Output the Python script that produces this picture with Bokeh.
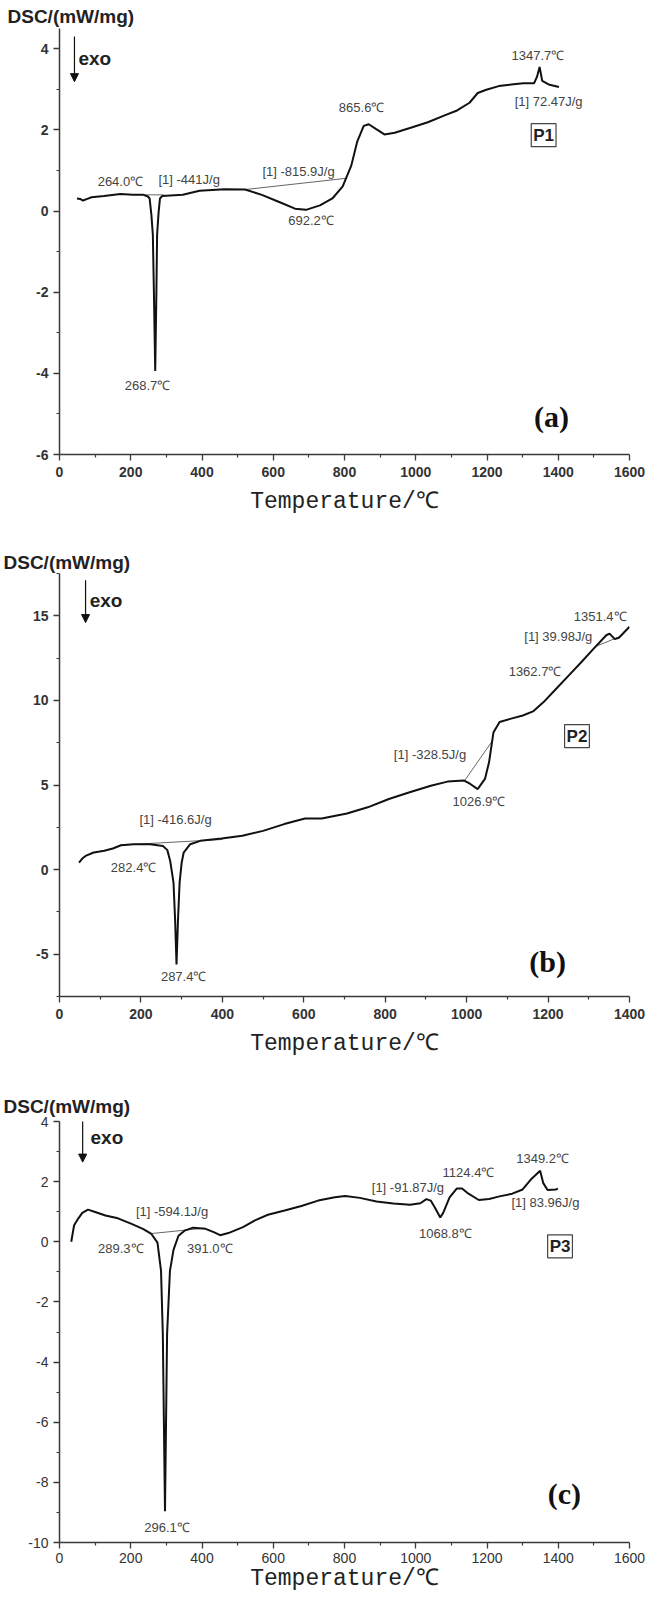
from bokeh.plotting import figure
from bokeh.layouts import column
from bokeh.models import Range1d, FixedTicker, Label, Arrow, NormalHead, ColumnDataSource, Title
from bokeh.core.properties import value
from bokeh.embed import file_html
from bokeh.resources import INLINE

# ---------------- data: panel (a) ----------------
a_temp = [49, 58, 66, 78, 90, 125, 171, 206, 236, 248, 253, 258, 262, 265, 268.7, 272, 274, 278, 282, 288,
          346, 393, 463, 521, 568, 615, 661, 692, 731, 766, 795, 819, 836, 854, 868, 889, 912, 941, 988,
          1034, 1081, 1116, 1151, 1174, 1198, 1233, 1268, 1302, 1332, 1340, 1347.7, 1355, 1373, 1402]
a_dsc = [0.31, 0.30, 0.26, 0.30, 0.34, 0.37, 0.42, 0.40, 0.40, 0.36, 0.31, -0.10, -0.58, -2.0, -3.94, -2.0, -0.58, -0.05, 0.31, 0.37,
         0.40, 0.50, 0.54, 0.53, 0.40, 0.23, 0.06, 0.03, 0.14, 0.31, 0.61, 1.12, 1.72, 2.10, 2.14, 2.02, 1.89, 1.93, 2.06,
         2.19, 2.36, 2.48, 2.67, 2.91, 2.99, 3.08, 3.12, 3.15, 3.15, 3.30, 3.55, 3.21, 3.12, 3.06]
a_base1_t = [235, 292]
a_base1_v = [0.40, 0.40]
a_base2_t = [521, 807]
a_base2_v = [0.53, 0.81]
a_lab_text = ["264.0\u2103", "[1] -441J/g", "[1] -815.9J/g", "268.7\u2103", "692.2\u2103", "865.6\u2103",
              "1347.7\u2103", "[1] 72.47J/g"]
a_lab_t = [171, 364, 671, 247, 706, 848, 1343, 1373]
a_lab_v = [0.74, 0.78, 0.98, -4.30, -0.24, 2.55, 3.84, 2.71]

# ---------------- data: panel (b) ----------------
b_temp = [48, 56, 64, 84, 110, 131, 151, 182, 223, 254, 265, 272, 280, 284, 287.4, 291, 295, 300, 305, 321,
          346, 398, 449, 500, 552, 603, 644, 706, 757, 809, 860, 912, 953, 994, 1009, 1027, 1045, 1055, 1066,
          1081, 1107, 1138, 1163, 1189, 1220, 1251, 1282, 1312, 1343, 1351, 1364, 1374, 1400]
b_dsc = [0.41, 0.65, 0.81, 1.01, 1.11, 1.25, 1.44, 1.50, 1.50, 1.40, 1.15, 0.50, -0.77, -3.0, -5.6, -3.0, -0.77, 0.40, 1.01, 1.50,
         1.70, 1.84, 2.00, 2.29, 2.69, 3.02, 3.02, 3.32, 3.68, 4.17, 4.57, 4.96, 5.20, 5.26, 5.06, 4.76, 5.36, 6.34, 8.12,
         8.72, 8.91, 9.11, 9.35, 9.90, 10.69, 11.48, 12.27, 13.06, 13.85, 13.95, 13.62, 13.70, 14.35]
b_base1_t = [150, 400]
b_base1_v = [1.45, 1.78]
b_base2_t = [995, 1063]
b_base2_v = [5.26, 7.60]
b_base3_t = [1318, 1374]
b_base3_v = [13.20, 13.75]
b_lab_text = ["[1] -416.6J/g", "282.4\u2103", "287.4\u2103", "[1] -328.5J/g", "1026.9\u2103",
              "1362.7\u2103", "[1] 39.98J/g", "1351.4\u2103"]
b_lab_t = [285, 182, 305, 910, 1030, 1168, 1225, 1328]
b_lab_v = [2.98, 0.12, -6.30, 6.78, 4.01, 11.68, 13.75, 14.94]

# ---------------- data: panel (c) ----------------
c_temp = [33, 41, 53, 64, 80, 100, 129, 164, 199, 234, 258, 275, 285, 290, 296.1, 302, 310, 320, 334, 351,
          375, 410, 433, 451, 474, 515, 550, 585, 632, 679, 726, 773, 802, 843, 890, 937, 984, 1013, 1030,
          1042, 1054, 1068.8, 1077, 1095, 1115, 1130, 1148, 1177, 1206, 1235, 1271, 1300, 1323, 1349.2, 1358,
          1370, 1393, 1399]
c_dsc = [0.0, 0.55, 0.78, 0.96, 1.07, 0.99, 0.875, 0.78, 0.61, 0.43, 0.26, -0.03, -0.97, -3.07, -8.96, -3.07, -0.97, -0.27, 0.20, 0.37,
         0.47, 0.43, 0.32, 0.22, 0.29, 0.49, 0.72, 0.90, 1.04, 1.19, 1.37, 1.48, 1.52, 1.46, 1.34, 1.27, 1.23, 1.28, 1.42,
         1.37, 1.13, 0.81, 0.96, 1.48, 1.77, 1.77, 1.60, 1.39, 1.42, 1.51, 1.60, 1.74, 2.07, 2.36, 1.95,
         1.72, 1.74, 1.77]
c_base1_t = [255, 405]
c_base1_v = [0.27, 0.45]
c_lab_text = ["[1] -594.1J/g", "289.3\u2103", "391.0\u2103", "296.1\u2103", "[1] -91.87J/g",
              "1124.4\u2103", "1068.8\u2103", "1349.2\u2103", "[1] 83.96J/g"]
c_lab_t = [316, 172, 422, 302, 978, 1148, 1083, 1356, 1364]
c_lab_v = [1.02, -0.23, -0.23, -9.49, 1.80, 2.30, 0.26, 2.77, 1.31]

x_ticks_1600 = [0, 200, 400, 600, 800, 1000, 1200, 1400, 1600]
x_ticks_1400 = [0, 200, 400, 600, 800, 1000, 1200, 1400]
a_yticks = [-6, -4, -2, 0, 2, 4]
b_yticks = [-5, 0, 5, 10, 15]
c_yticks = [-10, -8, -6, -4, -2, 0, 2, 4]

SANS = "Liberation Sans"
ANN_COLOR = "#444444"


def make_panel(width, height, bl, br, bt, bb, xr, yr, xticks, xminor, yticks, yminor, bold_ticks,
               title_offset, title_standoff, label_standoff, xlab_standoff):
    p = figure(width=width, height=height, output_backend="svg", toolbar_location=None,
               x_range=Range1d(*xr), y_range=Range1d(*yr),
               min_border_left=bl, min_border_right=br, min_border_top=bt, min_border_bottom=bb)
    p.outline_line_color = None
    p.xgrid.visible = False
    p.ygrid.visible = False
    p.background_fill_color = "white"
    p.border_fill_color = "white"
    p.add_layout(Title(text="DSC/(mW/mg)", align="left", offset=title_offset, standoff=title_standoff,
                       text_font=SANS, text_font_size="19px", text_font_style="bold",
                       text_color="#222222"), "above")
    p.xaxis.ticker = FixedTicker(ticks=xticks, minor_ticks=xminor)
    p.yaxis.ticker = FixedTicker(ticks=yticks, minor_ticks=yminor)
    p.xaxis.major_label_overrides = {t: str(t) for t in xticks}
    p.yaxis.major_label_overrides = {t: str(t) for t in yticks}
    for ax in (p.xaxis, p.yaxis):
        ax.axis_line_color = "#3a3a3a"
        ax.axis_line_width = 1.5
        ax.major_tick_line_color = "#3a3a3a"
        ax.minor_tick_line_color = "#3a3a3a"
        ax.major_tick_line_width = 1.3
        ax.minor_tick_line_width = 1.2
        ax.major_tick_in = 0
        ax.major_tick_out = 6
        ax.minor_tick_in = 0
        ax.minor_tick_out = 3
        ax.major_label_text_font = SANS
        ax.major_label_text_font_size = "14px"
        ax.major_label_text_color = "#333333"
        ax.major_label_text_font_style = "bold" if bold_ticks else "normal"
    p.xaxis.major_label_standoff = xlab_standoff
    p.yaxis.major_label_standoff = 5
    p.xaxis.axis_label = "Temperature/\u2103"
    p.xaxis.axis_label_text_font = "Liberation Mono"
    p.xaxis.axis_label_text_font_size = "23px"
    p.xaxis.axis_label_text_font_style = "normal"
    p.xaxis.axis_label_text_color = "#222222"
    p.xaxis.axis_label_standoff = label_standoff
    return p


def decorate(p, temp, dsc, bases, lab_t, lab_v, lab_text, arrow, exo_xy, tag, tag_xy, letter, letter_xy):
    for bt, bv in bases:
        p.line(bt, bv, line_color="#555555", line_width=0.9)
    p.line(temp, dsc, line_color="#111111", line_width=2.0)
    src = ColumnDataSource(dict(x=lab_t, y=lab_v, text=lab_text))
    p.text(x="x", y="y", text="text", source=src, text_font=value(SANS), text_font_size="13px",
           text_color=ANN_COLOR, text_align="center", text_baseline="middle")
    p.add_layout(Arrow(end=NormalHead(size=8, fill_color="#111111", line_color="#111111"),
                       x_start=arrow[0], y_start=arrow[1], x_end=arrow[0], y_end=arrow[2],
                       line_color="#111111", line_width=1.2))
    p.add_layout(Label(x=exo_xy[0], y=exo_xy[1], text="exo", text_font=SANS,
                       text_font_size="19px", text_font_style="bold", text_color="#222222",
                       text_align="left", text_baseline="middle"))
    p.add_layout(Label(x=tag_xy[0], y=tag_xy[1], text=tag, text_font=SANS,
                       text_font_size="17px", text_font_style="bold", text_color="#222222",
                       text_align="center", text_baseline="middle",
                       border_line_color="#444444", border_line_width=1.2,
                       background_fill_color="white", padding=2))
    p.add_layout(Label(x=letter_xy[0], y=letter_xy[1], text=letter, text_font="Liberation Serif",
                       text_font_size="30px", text_font_style="bold", text_color="#111111",
                       text_align="center", text_baseline="middle"))


# panel (a)
pa = make_panel(645, 540, 55, 16, 28, 86, (0, 1600), (-6, 4.5), x_ticks_1600,
                [100, 300, 500, 700, 900, 1100, 1300, 1500], a_yticks, [-5, -3, -1, 1, 3], True,
                -52, 4, 9, 6)
decorate(pa, a_temp, a_dsc, [(a_base1_t, a_base1_v), (a_base2_t, a_base2_v)],
         a_lab_t, a_lab_v, a_lab_text, (42, 4.30, 3.19), (53, 3.75),
         "P1", (1359, 1.87), "(a)", (1381, -5.06))

# panel (b)
pb = make_panel(645, 540, 59, 16, 33, 84, (0, 1400), (-7.5, 17.5), x_ticks_1400,
                [100, 300, 500, 700, 900, 1100, 1300], b_yticks, [-7.5, -2.5, 2.5, 7.5, 12.5, 17.5], True,
                -56, 1, 9, 6)
decorate(pb, b_temp, b_dsc, [(b_base1_t, b_base1_v), (b_base2_t, b_base2_v), (b_base3_t, b_base3_v)],
         b_lab_t, b_lab_v, b_lab_text, (64, 17.1, 14.6), (74, 15.9),
         "P2", (1271, 7.89), "(b)", (1199, -5.41))

# panel (c)
pc = make_panel(645, 515, 59, 16, 41, 53, (0, 1600), (-10, 4), x_ticks_1600,
                [100, 300, 500, 700, 900, 1100, 1300, 1500], c_yticks, [-9, -7, -5, -3, -1, 1, 3], False,
                -56, 9, 0, 4)
decorate(pc, c_temp, c_dsc, [(c_base1_t, c_base1_v)],
         c_lab_t, c_lab_v, c_lab_text, (65, 4.1, 2.65), (87, 3.47),
         "P3", (1405, -0.15), "(c)", (1417, -8.38))

layout = column(pa, pb, pc, spacing=0)
open("out.html", "w").write(file_html(layout, INLINE))
